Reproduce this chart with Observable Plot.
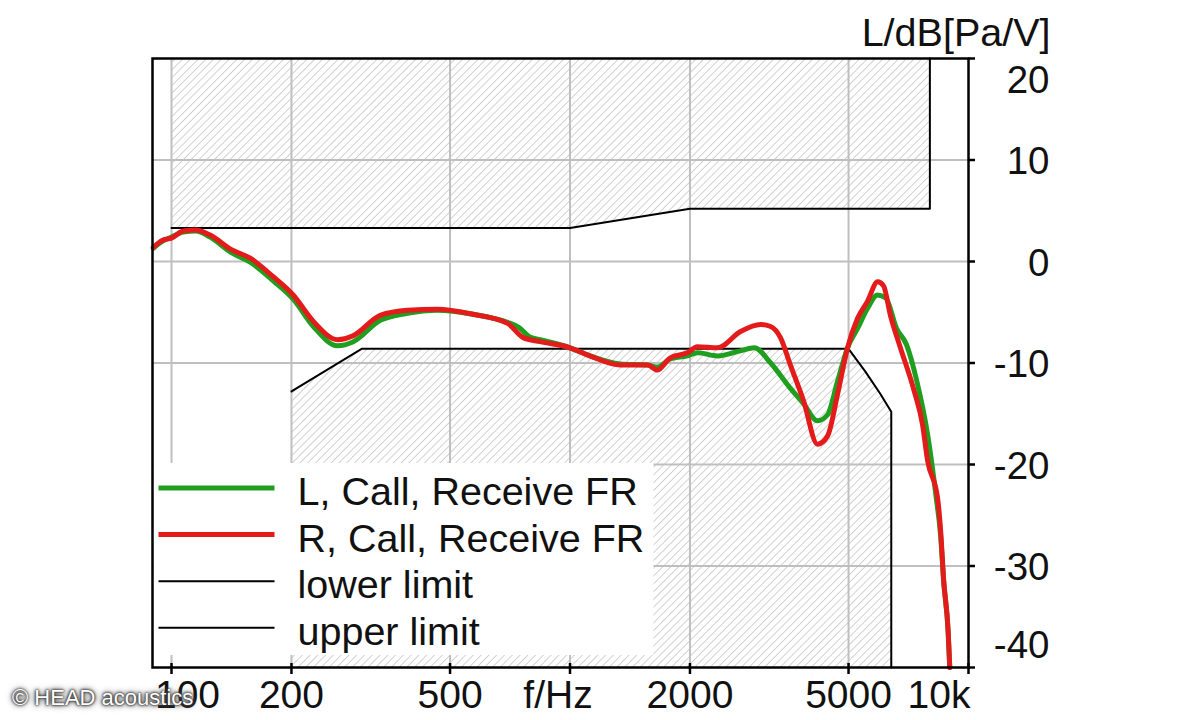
<!DOCTYPE html>
<html><head><meta charset="utf-8">
<script src="https://cdn.jsdelivr.net/npm/d3@7"></script>
<script src="https://cdn.jsdelivr.net/npm/@observablehq/plot@0.6"></script>
<style>
body{margin:0;background:#fff;}
#wrap{position:relative;width:1199px;height:720px;overflow:hidden;}
#wm{position:absolute;left:12px;top:687px;font:22px "Liberation Sans",Arial,sans-serif;line-height:22px;color:#fff;z-index:2;
text-shadow:0 0 2px #222,0 0 3px #333,0 0 5px #555,0 0 7px #777;white-space:nowrap;}
</style></head><body>
<svg width="0" height="0" style="position:absolute"><defs>
<pattern id="hatch" patternUnits="userSpaceOnUse" width="5.5" height="5.5" patternTransform="rotate(45)">
<line x1="0" y1="0" x2="0" y2="5.5" stroke="#b4b4b4" stroke-width="1.2"/></pattern></defs></svg>
<div id="wrap"><div id="wm">© HEAD acoustics</div></div>
<script>
// Left channel (green)
const freqL = [90,95,100,107,115,125,141,158,180,202,227,261,286,334,391,465,571,697,745,790,842,1000,1122,1337,1566,1655,1785,1970,2088,2348,2678,2900,3188,3574,3854,4178,4428,4692,4972,5268,5582,5914,6200,6600,6990,7420,7893,8300,8512,8663,8890,8974];
const levelL = [1.3,2.0,2.4,2.9,3.0,2.4,0.9,-0.1,-1.9,-3.7,-6.4,-8.3,-7.9,-5.8,-5.1,-4.8,-5.2,-6.0,-6.5,-7.4,-7.7,-8.5,-9.3,-10.1,-10.2,-10.4,-9.6,-9.3,-9.0,-9.3,-8.8,-8.5,-10.0,-12.5,-14.0,-15.7,-15.1,-11.8,-8.5,-6.6,-4.6,-3.3,-3.6,-6.6,-8.2,-11.8,-17.0,-23.3,-27.0,-31.5,-36.5,-40];
// Right channel (red)
const freqR = [90,95,100,107,115,125,141,158,180,202,227,261,286,334,391,465,571,697,763,842,1000,1122,1337,1566,1655,1785,1970,2088,2348,2678,3007,3188,3374,3574,3854,4178,4428,4692,4972,5268,5582,5914,6121,6368,6747,7274,7669,7893,8364,8512,8663,8890,8974];
const levelR = [1.4,2.1,2.3,3.0,3.1,2.6,1.2,0.3,-1.5,-3.3,-5.9,-7.7,-7.3,-5.3,-4.8,-4.7,-5.2,-6.1,-7.5,-7.9,-8.5,-9.3,-10.2,-10.2,-10.7,-9.5,-9.0,-8.4,-8.5,-6.9,-6.2,-6.4,-7.5,-10.2,-13.7,-18.0,-17.2,-13.1,-8.5,-5.6,-3.9,-2.0,-2.4,-5.3,-8.5,-12.5,-16.1,-19.6,-23.3,-26.5,-31.4,-36.4,-40];
// Tolerance masks
const upperFreq = [100,1000,2000,8000,8000];
const upperLevel = [3.3,3.3,5.2,5.2,20];
const lowerFreq = [200,300,5000,5500,6000,6400,6400];
const lowerLevel = [-12.8,-8.6,-8.6,-10.8,-13.0,-14.8,-40];
// Axes
const xTicks = [100,200,500,1000,2000,5000,10000];
const xTickLabels = ["100","200","500","f/Hz","2000","5000","10k"];
const xGrid = [100,200,500,1000,2000,5000];
const yTicks = [20,10,0,-10,-20,-30,-40];
const yTickLabels = ["20","10","0","-10","-20","-30","-40"];
const yGrid = [10,0,-10,-20,-30];
const yTitle = "L/dB[Pa/V]";
// Legend
const legendLabels = ["L, Call, Receive FR","R, Call, Receive FR","lower limit","upper limit"];
const GREEN = "#1f9e1f", RED = "#e31b1b";
const legendColors = [GREEN, RED, "#000", "#000"];
const legendWidths = [5,5,2,2];

const tbl = (fs, vs) => fs.map((f,i)=>({f, v: vs[i]}));
const L = tbl(freqL, levelL), R = tbl(freqR, levelR);
const upper = tbl(upperFreq, upperLevel), lower = tbl(lowerFreq, lowerLevel);
const xT = xTicks.map((f,i)=>({f, t: xTickLabels[i]}));
const yT = yTicks.map((v,i)=>({v, t: yTickLabels[i]}));
const FONT = '"Liberation Sans", Arial, sans-serif';

function legendMark(index, scales, values, dim) {
  const ns = "http://www.w3.org/2000/svg";
  const g = document.createElementNS(ns, "g");
  const left = dim.marginLeft + 1.5;
  const bottom = dim.height - dim.marginBottom - 12;
  const top = bottom - 192;
  const r = document.createElementNS(ns, "rect");
  r.setAttribute("x", left); r.setAttribute("y", top);
  r.setAttribute("width", 500); r.setAttribute("height", bottom - top);
  r.setAttribute("fill", "#fff");
  g.appendChild(r);
  legendLabels.forEach((lab, i) => {
    const ly = top + 25 + i * 46.6;
    const ln = document.createElementNS(ns, "line");
    ln.setAttribute("x1", left + 5); ln.setAttribute("x2", left + 121);
    ln.setAttribute("y1", ly); ln.setAttribute("y2", ly);
    ln.setAttribute("stroke", legendColors[i]);
    ln.setAttribute("stroke-width", legendWidths[i]);
    g.appendChild(ln);
    const t = document.createElementNS(ns, "text");
    t.setAttribute("x", left + 144); t.setAttribute("y", ly + 17);
    t.setAttribute("text-anchor", "start");
    t.setAttribute("font-size", 39.5); t.setAttribute("font-family", FONT);
    t.setAttribute("fill", "#111");
    t.textContent = lab;
    g.appendChild(t);
  });
  return g;
}

const chart = Plot.plot({
  width: 1199, height: 720,
  marginLeft: 152, marginRight: 231, marginTop: 58, marginBottom: 53,
  style: {fontFamily: FONT, background: "#fff"},
  x: {type: "log", domain: [89.6, 10000], axis: null},
  y: {domain: [-40, 20], axis: null},
  marks: [
    Plot.areaY(upper.slice(0,4), {x: "f", y1: "v", y2: 20, fill: "url(#hatch)"}),
    Plot.areaY(lower.slice(0,6), {x: "f", y1: "v", y2: -40, fill: "url(#hatch)"}),
    Plot.ruleX(xGrid, {x: d => d, stroke: "#bfbfbf", strokeWidth: 2}),
    Plot.ruleY(yGrid, {y: d => d, stroke: "#bfbfbf", strokeWidth: 2}),
    Plot.line(upper, {x: "f", y: "v", stroke: "#000", strokeWidth: 2}),
    Plot.line(lower, {x: "f", y: "v", stroke: "#000", strokeWidth: 2}),
    Plot.line(L, {x: "f", y: "v", stroke: GREEN, strokeWidth: 5, curve: "monotone-x", strokeLinejoin: "round"}),
    Plot.line(R, {x: "f", y: "v", stroke: RED, strokeWidth: 5, curve: "monotone-x", strokeLinejoin: "round"}),
    legendMark,
    Plot.frame({stroke: "#000", strokeWidth: 2.5}),
    // bottom ticks
    Plot.ruleX(xTicks, {x: d => d, y1: -40, y2: -40, insetTop: -4, insetBottom: -7, stroke: "#000", strokeWidth: 2.5}),
    // right ticks
    Plot.ruleY(yTicks, {y: d => d, x1: 10000, x2: 10000, insetLeft: 0, insetRight: -7, stroke: "#000", strokeWidth: 2.5}),
    // x labels
    Plot.text(xT, {filter: (d,i) => i > 0 && i < xT.length - 1 && d.t !== "f/Hz", x: "f", y: -40, text: "t", dy: 28, fontSize: 39, fill: "#111", lineAnchor: "middle"}),
    Plot.text(xT, {filter: d => d.t === "f/Hz", x: "f", y: -40, text: "t", dy: 28, dx: -12, fontSize: 39, fill: "#111", lineAnchor: "middle"}),
    Plot.text(xT, {filter: (d,i) => i === 0, x: "f", y: -40, text: "t", dy: 28, dx: 16, fontSize: 39, fill: "#111", lineAnchor: "middle"}),
    Plot.text(xT, {filter: (d,i) => i === xT.length - 1, x: "f", y: -40, text: "t", dy: 28, dx: 2, textAnchor: "end", fontSize: 39, fill: "#111", lineAnchor: "middle"}),
    // y labels
    Plot.text(yT, {filter: (d,i) => i > 0 && i < yT.length - 1, x: 10000, y: "v", text: "t", dx: 81, dy: 2, textAnchor: "end", fontSize: 38.5, fill: "#111", lineAnchor: "middle"}),
    Plot.text(yT, {filter: (d,i) => i === 0, x: 10000, y: "v", text: "t", dx: 81, dy: 22, textAnchor: "end", fontSize: 38.5, fill: "#111", lineAnchor: "middle"}),
    Plot.text(yT, {filter: (d,i) => i === yT.length - 1, x: 10000, y: "v", text: "t", dx: 81, dy: -22, textAnchor: "end", fontSize: 38.5, fill: "#111", lineAnchor: "middle"}),
    // y title
    Plot.text([yTitle], {frameAnchor: "top-right", text: d => d, dx: 82, dy: -13, textAnchor: "end", lineAnchor: "bottom", fontSize: 39.5, fill: "#111"})
  ]
});
document.getElementById("wrap").insertBefore(chart, document.getElementById("wm"));
</script>
</body></html>
